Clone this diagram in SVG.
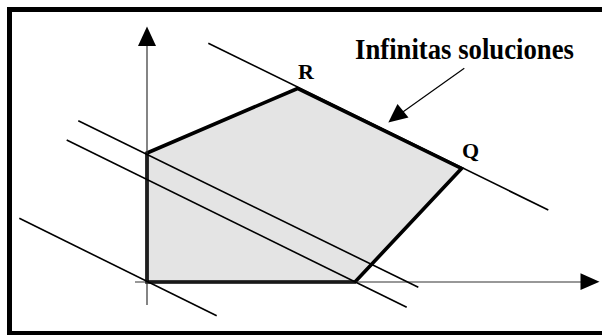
<svg xmlns="http://www.w3.org/2000/svg" width="602" height="335" viewBox="0 0 602 335">
<style>
.lbl{font-family:"Liberation Serif","Times New Roman",serif;font-weight:bold;fill:#000}
.iso{stroke:#000;stroke-width:1.6;fill:none}
.axis{stroke:#333;stroke-width:1.2;fill:none}
</style>
<rect x="0" y="0" width="602" height="335" fill="#fff"/>
<rect id="frame" x="9.5" y="9.5" width="600" height="324" fill="none" stroke="#000" stroke-width="5"/>
<g id="region">
<polygon points="147,282 147,153 297.5,88.5 461.5,168.5 355,282" fill="#e4e4e4" stroke="#000" stroke-width="3.6" stroke-linejoin="miter"/>
</g>
<g id="connectors">
<line class="axis" x1="147" y1="305" x2="147" y2="44"/>
<polygon points="147,26.5 138,46 156,46" fill="#000"/>
<line class="axis" x1="135" y1="282" x2="582" y2="282"/>
<polygon points="599.5,281.7 580.5,273.3 580.5,290" fill="#000"/>
<line class="iso" x1="208.3" y1="43.3" x2="548.3" y2="210"/>
<line class="iso" x1="78.3" y1="120.7" x2="418.3" y2="287.3"/>
<line class="iso" x1="66.7" y1="140" x2="406.7" y2="307.3"/>
<line class="iso" x1="19.3" y1="218.3" x2="216.7" y2="315.7"/>
<line x1="464.3" y1="68.3" x2="400" y2="114" stroke="#000" stroke-width="1.2"/>
<polygon points="388.3,122.5 397.5,104 408.5,117.5" fill="#000"/>
</g>
<g id="label-infinitas"><text class="lbl" x="355" y="59" font-size="29" textLength="219" lengthAdjust="spacingAndGlyphs">Infinitas soluciones</text></g>
<g id="label-R"><text class="lbl" x="298" y="79" font-size="22">R</text></g>
<g id="label-Q"><text class="lbl" x="462" y="158" font-size="22">Q</text></g>
</svg>
